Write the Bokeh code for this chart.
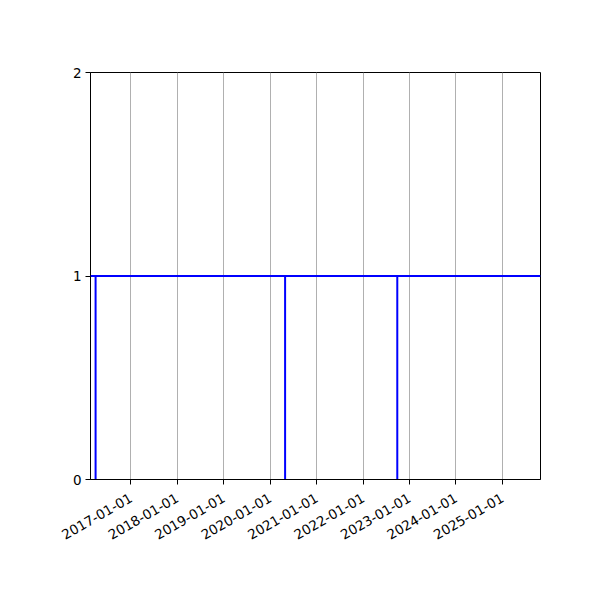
import math
from datetime import datetime

from bokeh.embed import file_html
from bokeh.models import (ColumnDataSource, DatetimeTickFormatter, FixedTicker,
                          Range1d, Span)
from bokeh.plotting import figure
from bokeh.resources import INLINE

# event dates (vertical lines from 0 to 1)
event_dates = [datetime(2016, 3, 30), datetime(2020, 4, 28), datetime(2022, 9, 27)]
event_low = [0, 0, 0]
event_high = [1, 1, 1]
level = 1

tick_dates = [datetime(y, 1, 1) for y in range(2017, 2026)]
y_ticks = [0, 1, 2]
x_start = datetime(2016, 2, 19)
x_end = datetime(2025, 10, 27)

source = ColumnDataSource(data={"date": event_dates, "y0": event_low, "y1": event_high})

p = figure(
    width=592,
    height=592,
    x_axis_type="datetime",
    x_range=Range1d(x_start, x_end),
    y_range=Range1d(0, 2),
    output_backend="svg",
    toolbar_location=None,
    tools="",
    min_border_left=90,
    min_border_right=52,
    min_border_top=72,
    min_border_bottom=113,
)

p.segment(x0="date", y0="y0", x1="date", y1="y1", source=source,
          line_color="#0000ff", line_width=2)
p.add_layout(Span(location=level, dimension="width", line_color="#0000ff", line_width=2))

to_ms = lambda d: (d - datetime(1970, 1, 1)).total_seconds() * 1000
p.xaxis.ticker = FixedTicker(ticks=[to_ms(d) for d in tick_dates])
p.xaxis.formatter = DatetimeTickFormatter(years="%Y-%m-%d", months="%Y-%m-%d", days="%Y-%m-%d")
p.xaxis.major_label_orientation = math.pi / 6
p.yaxis.ticker = FixedTicker(ticks=y_ticks)

for ax in (p.xaxis, p.yaxis):
    ax.major_label_text_font = "DejaVu Sans"
    ax.major_label_text_font_size = "13.5px"
    ax.major_label_text_color = "black"
    ax.axis_line_color = "black"
    ax.major_tick_line_color = "black"
    ax.major_tick_out = 5
    ax.major_tick_in = 0
    ax.minor_tick_line_color = None
    ax.major_label_standoff = 4

p.xaxis.major_label_standoff = 12

p.xgrid.grid_line_color = "#b0b0b0"
p.xgrid.grid_line_width = 1
p.xgrid.ticker = p.xaxis.ticker
p.ygrid.grid_line_color = None
p.outline_line_color = "black"
p.outline_line_width = 1
p.background_fill_color = "white"
p.border_fill_color = "white"

open("out.html", "w").write(file_html(p, INLINE))
